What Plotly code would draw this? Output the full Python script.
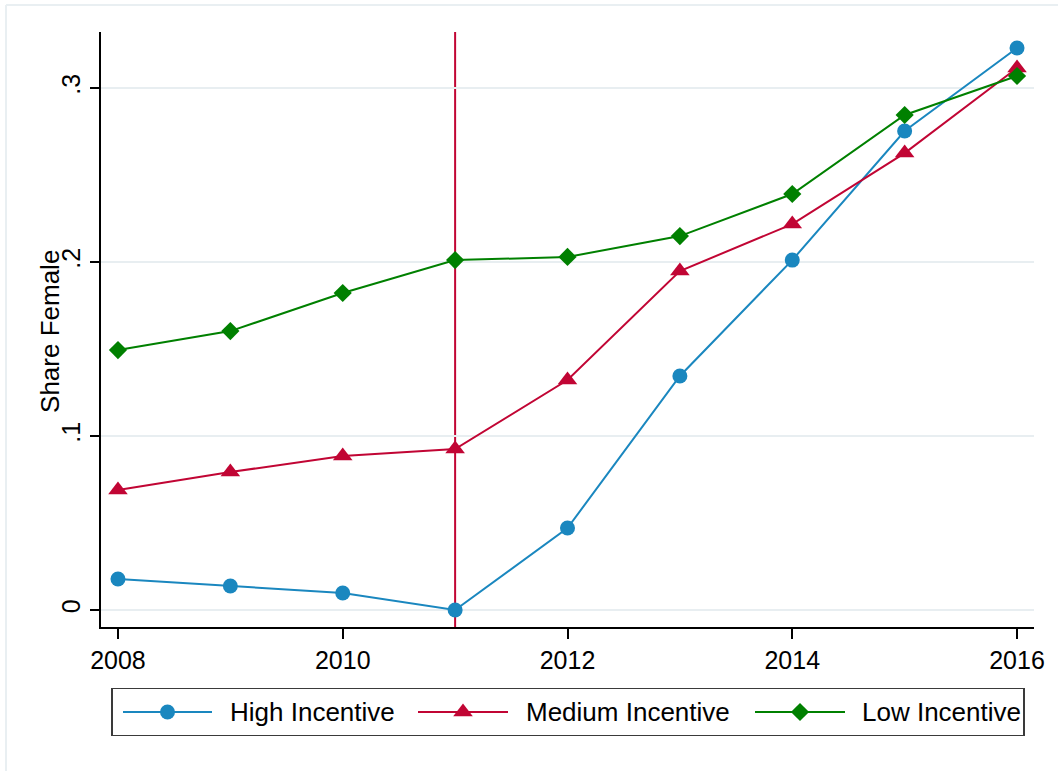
import plotly.graph_objects as go

# ---- data ----
years = [2008, 2009, 2010, 2011, 2012, 2013, 2014, 2015, 2016]
high_incentive = [0.0178, 0.0138, 0.0098, 0.0, 0.0471, 0.1345, 0.2011, 0.2753, 0.3230]
medium_incentive = [0.0690, 0.0793, 0.0885, 0.0925, 0.1322, 0.1948, 0.2218, 0.2626, 0.3115]
low_incentive = [0.1494, 0.1603, 0.1822, 0.2011, 0.2029, 0.2149, 0.2391, 0.2845, 0.3069]
series_names = ["High Incentive", "Medium Incentive", "Low Incentive"]
policy_year = 2011
x_ticks = [2008, 2010, 2012, 2014, 2016]
y_ticks = [0, 0.1, 0.2, 0.3]
y_ticktext = ["0", ".1", ".2", ".3"]
y_title = "Share Female"

# ---- style ----
BLUE = "#1a87bf"
RED = "#c10534"
GREEN = "#008000"
colors = [BLUE, RED, GREEN]
symbols = ["circle", "triangle-up", "diamond"]
msizes = [15, 17, 14]
FONT = "Liberation Sans, Arial, sans-serif"

fig = go.Figure()
for name, vals, c, s, ms in zip(series_names, [high_incentive, medium_incentive, low_incentive],
                                colors, symbols, msizes):
    fig.add_trace(go.Scatter(
        x=years, y=vals, name=name, mode="lines+markers",
        line=dict(color=c, width=2),
        marker=dict(symbol=s, size=ms, color=c, line=dict(width=0)),
        showlegend=False, xaxis="x", yaxis="y", cliponaxis=False,
    ))

# vertical policy line
fig.add_shape(type="line", xref="x", yref="y domain", x0=policy_year, x1=policy_year,
              y0=0, y1=1, line=dict(color=RED, width=2), layer="below")

# ---- custom legend (drawn on auxiliary axes) ----
leg_box = (112, 1024)
leg_line_x = [(123, 212), (418, 508), (755, 845)]
leg_text_x = [228, 524, 860]
fig.add_shape(type="rect", xref="x2", yref="y2", x0=leg_box[0], x1=leg_box[1], y0=0, y1=1,
              line=dict(color="#3a3a3a", width=2), fillcolor="white", layer="below")
for name, c, s, ms, (a, b), tx in zip(series_names, colors, symbols, msizes, leg_line_x, leg_text_x):
    fig.add_trace(go.Scatter(x=[a, b], y=[0.5, 0.5], mode="lines", line=dict(color=c, width=2),
                             showlegend=False, xaxis="x2", yaxis="y2", hoverinfo="skip"))
    fig.add_trace(go.Scatter(x=[(a + b) / 2], y=[0.5], mode="markers",
                             marker=dict(symbol=s, size=ms, color=c, line=dict(width=0)),
                             showlegend=False, xaxis="x2", yaxis="y2", hoverinfo="skip"))
    fig.add_annotation(x=tx, y=0.5, xref="x2", yref="y2", text=name, showarrow=False,
                       xanchor="left", yanchor="middle", font=dict(size=26, color="black", family=FONT))

# y-axis title
fig.add_annotation(x=-0.0547, y=0.5783, xref="paper", yref="paper", text=y_title, textangle=-90,
                   showarrow=False, xanchor="center", yanchor="middle",
                   font=dict(size=26, color="black", family=FONT))

# faint outer frame
fig.add_shape(type="line", xref="paper", yref="paper", x0=-0.1018, x1=1.2, y0=1.0381, y1=1.0381,
              line=dict(color="#e9eff2", width=2))
fig.add_shape(type="line", xref="paper", yref="paper", x0=-0.1018, x1=-0.1018, y0=1.0381, y1=-0.2,
              line=dict(color="#e9eff2", width=2))

fig.update_layout(
    width=1058, height=771,
    margin=dict(l=101, r=24, t=32, b=30, pad=0),
    paper_bgcolor="white", plot_bgcolor="white",
    font=dict(family=FONT, size=25, color="black"),
    xaxis=dict(
        range=[2007.849, 2016.151], domain=[0, 1], anchor="y",
        tickvals=x_ticks, ticks="outside", ticklen=10, tickwidth=1.5, tickcolor="black",
        showline=True, linecolor="black", linewidth=1.5, showgrid=False, zeroline=False,
        tickfont=dict(size=25),
    ),
    yaxis=dict(
        range=[-0.00977, 0.3322], domain=[0.16079, 1], anchor="x",
        tickvals=y_ticks, ticktext=y_ticktext, tickangle=-90,
        ticks="outside", ticklen=9, tickwidth=1.5, tickcolor="black",
        showline=True, linecolor="black", linewidth=1.5,
        showgrid=True, gridcolor="#e8eef1", gridwidth=2, zeroline=False,
        tickfont=dict(size=25),
    ),
    xaxis2=dict(range=[101, 1034], domain=[0, 1], anchor="y2", visible=False, fixedrange=True),
    yaxis2=dict(range=[0, 1], domain=[0.00705, 0.07475], anchor="x2", visible=False, fixedrange=True),
)

fig.write_html("out.html")
